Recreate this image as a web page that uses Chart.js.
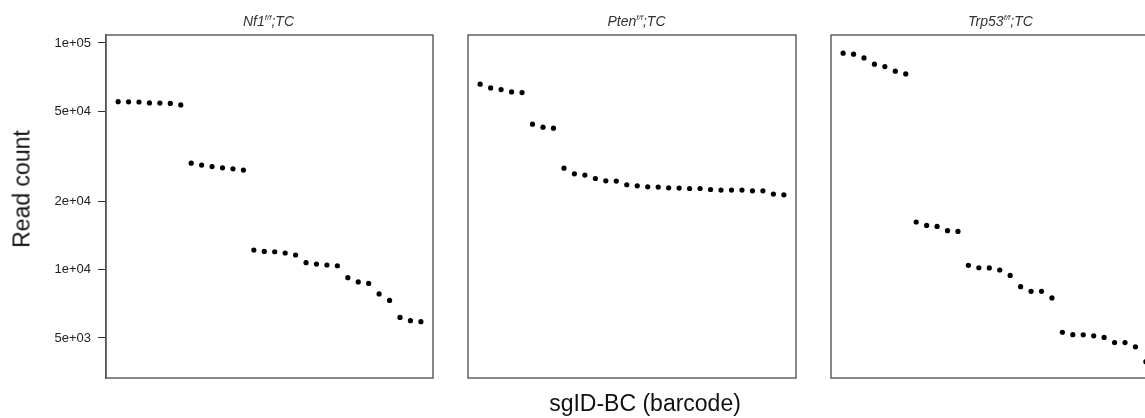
<!DOCTYPE html>
<html>
<head>
<meta charset="utf-8">
<script src="https://cdn.jsdelivr.net/npm/chart.js@4"></script>
<style>
  html, body { margin: 0; padding: 0; background: #fff; overflow: hidden; }
  body { width: 1145px; height: 418px; position: relative; font-family: "Liberation Sans", Arial, sans-serif; }
  canvas { position: absolute; top: 0; }
  .ptitle { position: absolute; top: 13px; width: 327px; text-align: center; font-size: 14px; font-style: italic; color: #333; line-height: 16px; }
  .ptitle sup { font-size: 8px; vertical-align: 6px; line-height: 0; }
  .axt { position: absolute; font-size: 23px; color: #111; line-height: 23px; white-space: nowrap; transform: translate(-50%, -50%); }
</style>
</head>
<body>
<canvas id="c0" width="440" height="418" style="left:0px"></canvas>
<canvas id="c1" width="360" height="418" style="left:445px"></canvas>
<canvas id="c2" width="400" height="418" style="left:810px"></canvas>
<div class="ptitle" style="left:105px"><span id="t0"></span></div>
<div class="ptitle" style="left:473px"><span id="t1"></span></div>
<div class="ptitle" style="left:837px"><span id="t2"></span></div>
<div class="axt" id="ylab" style="left:21.5px; top:189px; transform: translate(-50%, -50%) rotate(-90deg);"></div>
<div class="axt" id="xlab" style="left:645px; top:403px;"></div>
<script>
// panel names (gene, superscript genotype, suffix)
var panelGenes = ["Nf1", "Pten", "Trp53"];
var panelSup = "f/f";
var panelSuffix = ";TC";
var xTitle = "sgID-BC (barcode)";
var yTitle = "Read count";

var yTickValues = [5000, 10000, 20000, 50000, 100000];
var yTickLabels = ["5e+03", "1e+04", "2e+04", "5e+04", "1e+05"];

// read counts per barcode, sorted high to low
var nf1Counts = [55100, 55000, 54900, 54400, 54300, 54100, 53300,
  29500, 28930, 28510, 28140, 27860, 27500,
  12210, 12040, 12000, 11850, 11610, 10740, 10590, 10490, 10410,
  9220, 8830, 8700, 7820, 7320, 6160, 5960, 5900];
var ptenCounts = [65780, 63350, 62260, 60820, 60400,
  43850, 42530, 42100,
  28050, 26480, 26140, 25250, 24670, 24600, 23690, 23440, 23210, 23140, 22970,
  22900, 22810, 22810, 22580, 22450, 22450, 22450, 22280, 22280, 21560, 21400];
var trp53Counts = [90110, 89180, 85900, 80600, 78650, 75060, 73030,
  16230, 15680, 15520, 14860, 14750,
  10450, 10200, 10180, 9970, 9440, 8420, 8030, 8030, 7510,
  5300, 5170, 5160, 5110, 5030, 4770, 4770, 4570, 3930];

var allCounts = [nf1Counts, ptenCounts, trp53Counts];

for (var i = 0; i < 3; i++) {
  document.getElementById("t" + i).innerHTML = panelGenes[i] + "<sup>" + panelSup + "</sup>" + panelSuffix;
}
document.getElementById("xlab").textContent = xTitle;
document.getElementById("ylab").textContent = yTitle;

// box round the plot area, like R's box()
var boxPlugin = {
  id: "box",
  afterDatasetsDraw: function(chart) {
    var a = chart.chartArea, ctx = chart.ctx;
    ctx.save();
    ctx.strokeStyle = "#555";
    ctx.lineWidth = 1.4;
    ctx.strokeRect(a.left, a.top, a.right - a.left, a.bottom - a.top);
    ctx.restore();
  }
};

var pads = [
  { left: 0, right: 7 },
  { left: 23, right: 9 },
  { left: 21, right: 52 }
];

function makeChart(idx) {
  var counts = allCounts[idx];
  var pts = counts.map(function(v, j) { return { x: j + 1, y: v }; });
  var showY = idx === 0;
  return new Chart(document.getElementById("c" + idx), {
    type: "scatter",
    data: {
      datasets: [{
        data: pts,
        backgroundColor: "#000",
        borderWidth: 0,
        pointRadius: 2.6,
        pointHoverRadius: 2.6
      }]
    },
    options: {
      responsive: false,
      animation: false,
      events: [],
      layout: { padding: { top: 35, bottom: 40, left: pads[idx].left, right: pads[idx].right } },
      plugins: { legend: { display: false }, tooltip: { enabled: false } },
      scales: {
        x: {
          type: "linear",
          display: false,
          min: -0.16,
          max: 31.16
        },
        y: {
          type: "logarithmic",
          display: showY,
          min: 3330,
          max: 108400,
          afterBuildTicks: function(scale) {
            scale.ticks = yTickValues.map(function(v) { return { value: v }; });
          },
          afterFit: function(scale) { scale.width = showY ? 106 : 0; },
          grid: { drawOnChartArea: false, drawTicks: true, tickLength: 8, color: "#333", lineWidth: 1 },
          border: { display: true, color: "#555", width: 1.4 },
          ticks: {
            autoSkip: false,
            padding: 7,
            color: "#222",
            font: { family: "'Liberation Sans', Arial, sans-serif", size: 13 },
            callback: function(value) {
              var k = yTickValues.indexOf(value);
              return k >= 0 ? yTickLabels[k] : "";
            }
          }
        }
      }
    },
    plugins: [boxPlugin]
  });
}

makeChart(0);
makeChart(1);
makeChart(2);
</script>
</body>
</html>
